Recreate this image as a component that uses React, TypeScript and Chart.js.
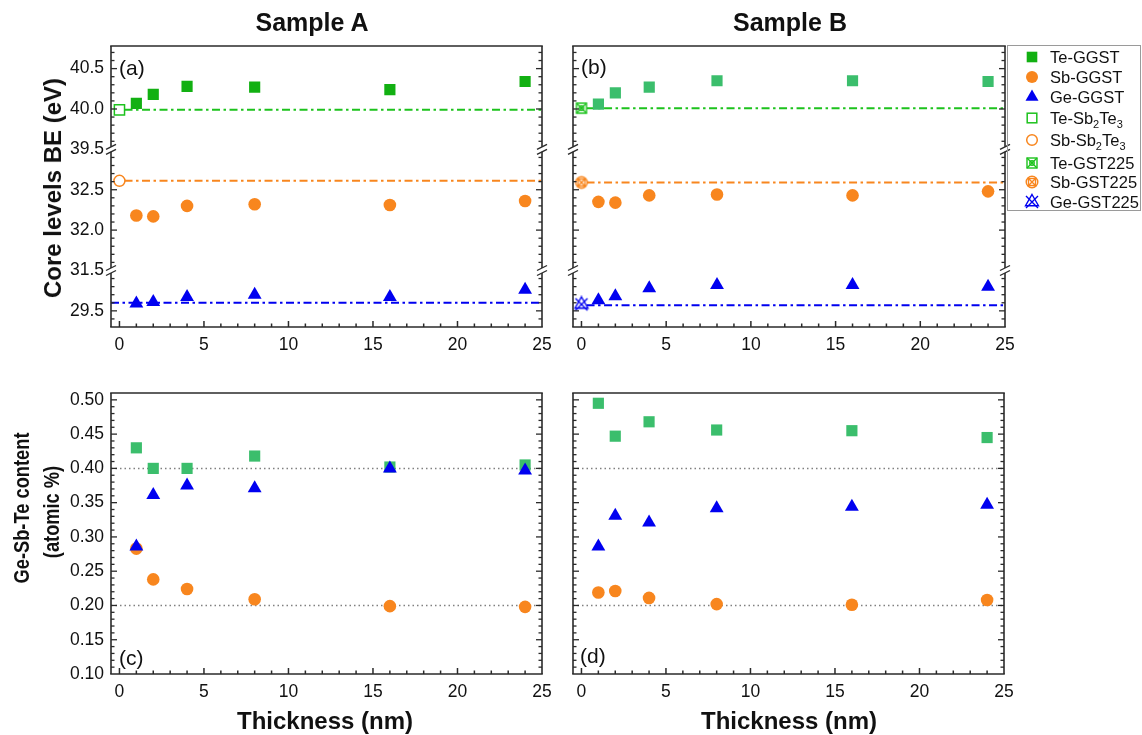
import React, { useEffect, useRef } from 'react';
import { Chart, registerables } from 'chart.js';

Chart.register(...registerables);

const FONT = '"Liberation Sans", Arial, Helvetica, sans-serif';

// ---------- data ----------
const thickness = [1, 2, 4, 8, 16, 24];
const xTickValues = [0, 5, 10, 15, 20, 25];

// Sample A core-level binding energies (eV)
const teGGST_A = [40.07, 40.18, 40.28, 40.27, 40.24, 40.34];
const sbGGST_A = [32.18, 32.17, 32.3, 32.32, 32.31, 32.36];
const geGGST_A = [29.59, 29.61, 29.67, 29.7, 29.67, 29.76];
const teSb2Te3 = [39.99];
const sbSb2Te3 = [32.61];
const geRefA = [29.6];

// Sample B core-level binding energies (eV)
const teGGST_B = [40.06, 40.2, 40.27, 40.35, 40.35, 40.34];
const sbGGST_B = [32.35, 32.34, 32.43, 32.44, 32.43, 32.48];
const geGGST_B = [29.63, 29.68, 29.78, 29.82, 29.82, 29.8];
const teGST225 = [40.01];
const sbGST225 = [32.59];
const geGST225 = [29.58];
const geRefB = [29.57];

// Ge-Sb-Te content (atomic fraction)
const teContentA = [0.43, 0.4, 0.4, 0.418, 0.402, 0.405];
const sbContentA = [0.283, 0.238, 0.224, 0.209, 0.199, 0.198];
const geContentA = [0.286, 0.361, 0.375, 0.371, 0.4, 0.397];
const teContentB = [0.495, 0.447, 0.468, 0.456, 0.455, 0.445];
const sbContentB = [0.219, 0.221, 0.211, 0.202, 0.201, 0.208];
const geContentB = [0.286, 0.331, 0.321, 0.342, 0.344, 0.347];
const contentGuides = [0.4, 0.2];

// axis segments / ticks
const beTopRange = [39.5, 40.78];
const beMidRange = [31.5, 33.0];
const beBotRange = [29.3, 30.0];
const beTopTicks = [39.5, 40.0, 40.5];
const beMidTicks = [31.5, 32.0, 32.5];
const beBotTicks = [29.5];
const contentRange = [0.1, 0.51];
const contentTicks = [0.1, 0.15, 0.2, 0.25, 0.3, 0.35, 0.4, 0.45, 0.5];
const xRange = [-0.5, 25];

// ---------- colours ----------
const GREEN_A = '#12B012';
const GREEN_B = '#3BBE6C';
const GREEN_LINE = '#1DC21D';
const ORANGE = '#F8861E';
const BLUE = '#0000F0';

const R_SQ = 7.9;
const R_CI = 6.3;
const R_TR = 8;

// ---------- helpers ----------
const pts = (xs: number[], ys: number[]) => xs.map((x, i) => ({ x, y: ys[i] }));

function markerDs(xs: number[], ys: number[], style: any, color: string, r: number, axis: string, order: number) {
  return {
    data: pts(xs, ys), yAxisID: axis, order,
    pointStyle: style, pointRadius: r, pointHoverRadius: r,
    backgroundColor: color, borderColor: color, borderWidth: 0, showLine: false,
  };
}
function openDs(xs: number[], ys: number[], style: any, color: string, r: number, axis: string) {
  return {
    data: pts(xs, ys), yAxisID: axis, order: 3,
    pointStyle: style, pointRadius: r, pointHoverRadius: r,
    backgroundColor: '#ffffff', borderColor: color, borderWidth: 1.5, showLine: false,
  };
}
function refLine(y: number, x0: number, color: string, axis: string) {
  return {
    data: [{ x: x0, y }, { x: xRange[1], y }], yAxisID: axis, order: 10,
    showLine: true, borderColor: color, borderWidth: 2, borderDash: [8, 3.5, 2.5, 3.5],
    pointRadius: 0, pointHoverRadius: 0, fill: false,
  };
}
function guideLine(y: number) {
  return {
    data: [{ x: xRange[0], y }, { x: xRange[1], y }], yAxisID: 'y', order: 10,
    showLine: true, borderColor: '#808080', borderWidth: 1.5, borderDash: [1.5, 3],
    pointRadius: 0, pointHoverRadius: 0, fill: false,
  };
}

function symbolCanvas(kind: string, color: string): HTMLCanvasElement {
  const S = 18;
  const c = document.createElement('canvas');
  c.width = S; c.height = S;
  const g = c.getContext('2d')!;
  const m = S / 2;
  g.strokeStyle = color; g.fillStyle = '#ffffff'; g.lineWidth = 1.4;
  if (kind === 'square') {
    const h = 5;
    g.beginPath(); g.rect(m - h, m - h, 2 * h, 2 * h); g.fill(); g.stroke();
    g.beginPath();
    g.moveTo(m - h, m - h); g.lineTo(m + h, m + h);
    g.moveTo(m + h, m - h); g.lineTo(m - h, m + h);
    g.stroke();
    g.beginPath(); g.arc(m, m, 2.2, 0, Math.PI * 2); g.stroke();
  } else if (kind === 'circle') {
    const r = 5.8;
    g.beginPath(); g.arc(m, m, r, 0, Math.PI * 2); g.fill(); g.stroke();
    const d = r * 0.72;
    g.beginPath();
    g.moveTo(m - d, m - d); g.lineTo(m + d, m + d);
    g.moveTo(m + d, m - d); g.lineTo(m - d, m + d);
    g.stroke();
    g.beginPath(); g.rect(m - 3.5, m - 3.5, 7, 7); g.stroke();
  } else {
    const r = 7.5;
    g.beginPath();
    g.moveTo(m, m - r); g.lineTo(m + r * 0.866, m + r * 0.5); g.lineTo(m - r * 0.866, m + r * 0.5); g.closePath();
    g.stroke();
    g.beginPath();
    g.moveTo(m - 6, m - 6); g.lineTo(m + 6, m + 6);
    g.moveTo(m + 6, m - 6); g.lineTo(m - 6, m + 6);
    g.stroke();
  }
  return c;
}

function makeFramePlugin(yMinor: number, yMajor: number) {
  return {
    id: 'frame',
    afterDatasetsDraw(chart: any) {
      const { ctx, chartArea: ca } = chart;
      const ys: any[] = Object.values(chart.scales).filter((s: any) => s.axis === 'y');
      const breaks = ys.map((s) => s.bottom).filter((b) => b < ca.bottom - 1 && b > ca.top + 1);
      ctx.save();
      ctx.strokeStyle = '#2a2a2a';
      ctx.lineWidth = 1.5;
      const line = (x1: number, y1: number, x2: number, y2: number) => {
        ctx.beginPath(); ctx.moveTo(x1, y1); ctx.lineTo(x2, y2); ctx.stroke();
      };
      // x ticks (inward)
      const xs = chart.scales.x;
      for (let v = Math.ceil(xs.min); v <= xs.max + 1e-9; v += 1) {
        const px = xs.getPixelForValue(v);
        if (px <= ca.left + 1 || px >= ca.right - 1) continue;
        const len = v % 5 === 0 ? 6 : 3.5;
        line(px, ca.bottom, px, ca.bottom - len);
      }
      // y ticks (inward, both sides)
      ctx.lineWidth = 1.3;
      for (const s of ys) {
        const k0 = Math.ceil(s.min / yMinor - 1e-6);
        const k1 = Math.floor(s.max / yMinor + 1e-6);
        for (let k = k0; k <= k1; k++) {
          const v = k * yMinor;
          const py = s.getPixelForValue(v);
          if (py <= ca.top + 1 || py >= ca.bottom - 1) continue;
          if (breaks.some((b) => Math.abs(b - py) < 4)) continue;
          const r = v / yMajor;
          const major = Math.abs(r - Math.round(r)) < 1e-6;
          const len = major ? 6 : 3.5;
          line(ca.left, py, ca.left + len, py);
          line(ca.right, py, ca.right - len, py);
        }
      }
      // frame
      ctx.lineWidth = 1.6;
      line(ca.left - 0.8, ca.top, ca.right + 0.8, ca.top);
      line(ca.left - 0.8, ca.bottom, ca.right + 0.8, ca.bottom);
      for (const x of [ca.left, ca.right]) {
        const cuts = [ca.top, ...breaks.slice().sort((a, b) => a - b), ca.bottom];
        for (let i = 0; i < cuts.length - 1; i++) {
          const y1 = cuts[i] + (i === 0 ? 0 : 2.5);
          const y2 = cuts[i + 1] - (i === cuts.length - 2 ? 0 : 2.5);
          line(x, y1, x, y2);
        }
        ctx.lineWidth = 1.3;
        for (const b of breaks) {
          line(x - 5, b, x + 5, b - 5);
          line(x - 5, b + 5, x + 5, b);
        }
        ctx.lineWidth = 1.6;
      }
      ctx.restore();
    },
  };
}

const tickFont = { family: FONT, size: 17.5 };

function xScale() {
  return {
    type: 'linear', position: 'bottom', min: xRange[0], max: xRange[1],
    grid: { display: false, drawTicks: false }, border: { display: false },
    ticks: { padding: 8, color: '#111', font: tickFont, autoSkip: false, maxRotation: 0, callback: (v: any) => String(v) },
    afterBuildTicks: (sc: any) => { sc.ticks = xTickValues.map((v) => ({ value: v })); },
    afterFit: (sc: any) => { sc.height = 40; },
  };
}

function beScales(showLabels: boolean, axisW: number) {
  const segs = [
    { id: 'yTop', range: beTopRange, ticks: beTopTicks, weight: 3 },
    { id: 'yMid', range: beMidRange, ticks: beMidTicks, weight: 2 },
    { id: 'yBot', range: beBotRange, ticks: beBotTicks, weight: 1 },
  ];
  const out: any = {};
  for (const s of segs) {
    out[s.id] = {
      type: 'linear', position: 'left', stack: 'be', stackWeight: s.range[1] - s.range[0], weight: s.weight,
      min: s.range[0], max: s.range[1],
      grid: { display: false, drawTicks: false }, border: { display: false },
      ticks: { display: showLabels, autoSkip: false, padding: 7, color: '#111', font: tickFont, callback: (v: any) => Number(v).toFixed(1) },
      afterBuildTicks: (sc: any) => { sc.ticks = s.ticks.map((v) => ({ value: v })); },
      afterFit: (sc: any) => { sc.width = axisW; },
    };
  }
  return out;
}

function contentScale(showLabels: boolean, axisW: number) {
  return {
    y: {
      type: 'linear', position: 'left', min: contentRange[0], max: contentRange[1],
      grid: { display: false, drawTicks: false }, border: { display: false },
      ticks: { display: showLabels, autoSkip: false, padding: 7, color: '#111', font: tickFont, callback: (v: any) => Number(v).toFixed(2) },
      afterBuildTicks: (sc: any) => { sc.ticks = contentTicks.map((v) => ({ value: v })); },
      afterFit: (sc: any) => { sc.width = axisW; },
    },
  };
}

type Rect = [number, number, number, number];
const PAD_TOP = 20;
const PAD_RIGHT = 18;
const X_AXIS_H = 40;

function Panel({ rect, axisW, build }: { rect: Rect; axisW: number; build: () => any }) {
  const ref = useRef<HTMLCanvasElement>(null);
  const [L, T, R, B] = rect;
  const left = L - axisW;
  const top = T - PAD_TOP;
  const w = R - left + PAD_RIGHT;
  const h = B - top + X_AXIS_H;
  useEffect(() => {
    const chart = new Chart(ref.current as HTMLCanvasElement, build());
    return () => chart.destroy();
  }, []);
  return (
    <canvas
      ref={ref}
      width={w}
      height={h}
      style={{ position: 'absolute', left, top, width: w, height: h }}
    />
  );
}

function baseOptions(scales: any, yMinor: number, yMajor: number, datasets: any[]) {
  return {
    type: 'scatter',
    data: { datasets },
    options: {
      responsive: false,
      animation: false,
      devicePixelRatio: 1,
      layout: { padding: { top: PAD_TOP, right: PAD_RIGHT, left: 0, bottom: 0 } },
      plugins: { legend: { display: false }, tooltip: { enabled: false } },
      events: [],
      scales,
    },
    plugins: [makeFramePlugin(yMinor, yMajor)],
  };
}

const buildA = () =>
  baseOptions({ x: xScale(), ...beScales(true, 111) }, 0.1, 0.5, [
    markerDs(thickness, geGGST_A, 'triangle', BLUE, R_TR, 'yBot', 0),
    markerDs(thickness, sbGGST_A, 'circle', ORANGE, R_CI, 'yMid', 1),
    markerDs(thickness, teGGST_A, 'rect', GREEN_A, R_SQ, 'yTop', 2),
    openDs([0], teSb2Te3, 'rect', GREEN_LINE, 7.2, 'yTop'),
    openDs([0], sbSb2Te3, 'circle', ORANGE, 5.5, 'yMid'),
    refLine(teSb2Te3[0], 0.3, GREEN_LINE, 'yTop'),
    refLine(sbSb2Te3[0], 0.3, ORANGE, 'yMid'),
    refLine(geRefA[0], xRange[0], BLUE, 'yBot'),
  ]);

const buildB = () =>
  baseOptions({ x: xScale(), ...beScales(false, 20) }, 0.1, 0.5, [
    markerDs(thickness, geGGST_B, 'triangle', BLUE, R_TR, 'yBot', 0),
    markerDs(thickness, sbGGST_B, 'circle', ORANGE, R_CI, 'yMid', 1),
    markerDs(thickness, teGGST_B, 'rect', GREEN_B, R_SQ, 'yTop', 2),
    openDs([0], teGST225, symbolCanvas('square', GREEN_LINE), GREEN_LINE, 7, 'yTop'),
    openDs([0], sbGST225, symbolCanvas('circle', ORANGE), ORANGE, 7, 'yMid'),
    openDs([0], geGST225, symbolCanvas('triangle', BLUE), BLUE, 7, 'yBot'),
    refLine(teGST225[0], 0.3, GREEN_LINE, 'yTop'),
    refLine(sbGST225[0], 0.3, ORANGE, 'yMid'),
    refLine(geRefB[0], 0.3, BLUE, 'yBot'),
  ]);

const buildC = () =>
  baseOptions({ x: xScale(), ...contentScale(true, 111) }, 0.01, 0.05, [
    markerDs(thickness, geContentA, 'triangle', BLUE, R_TR, 'y', 0),
    markerDs(thickness, sbContentA, 'circle', ORANGE, R_CI, 'y', 1),
    markerDs(thickness, teContentA, 'rect', GREEN_B, R_SQ, 'y', 2),
    ...contentGuides.map((g) => guideLine(g)),
  ]);

const buildD = () =>
  baseOptions({ x: xScale(), ...contentScale(false, 20) }, 0.01, 0.05, [
    markerDs(thickness, geContentB, 'triangle', BLUE, R_TR, 'y', 0),
    markerDs(thickness, sbContentB, 'circle', ORANGE, R_CI, 'y', 1),
    markerDs(thickness, teContentB, 'rect', GREEN_B, R_SQ, 'y', 2),
    ...contentGuides.map((g) => guideLine(g)),
  ]);

// ---------- text helpers ----------
function Txt({ x, y, children, size, bold, rotate, align, squeeze }: any) {
  const tx = align === 'left' ? '0' : '-50%';
  const sq = squeeze ? ` scaleX(${squeeze})` : '';
  return (
    <div
      style={{
        position: 'absolute', left: x, top: y, whiteSpace: 'nowrap',
        transform: `translate(${tx}, -50%)${rotate ? ' rotate(-90deg)' : ''}${sq}`,
        transformOrigin: align === 'left' ? 'left center' : 'center center',
        fontFamily: FONT, fontSize: size, fontWeight: bold ? 700 : 400, color: '#111', lineHeight: 1,
      }}
    >
      {children}
    </div>
  );
}

function Icon({ kind }: { kind: string }) {
  const s = 18, m = 9;
  let el: any = null;
  if (kind === 'teF') el = <rect x={m - 5.3} y={m - 5.3} width={10.6} height={10.6} fill={GREEN_A} />;
  else if (kind === 'sbF') el = <circle cx={m} cy={m} r={6} fill={ORANGE} />;
  else if (kind === 'geF') el = <polygon points={`${m},${m - 7.5} ${m + 6.5},${m + 3.75} ${m - 6.5},${m + 3.75}`} fill={BLUE} />;
  else if (kind === 'teO') el = <rect x={m - 4.8} y={m - 4.8} width={9.6} height={9.6} fill="#fff" stroke={GREEN_LINE} strokeWidth={1.5} />;
  else if (kind === 'sbO') el = <circle cx={m} cy={m} r={5.3} fill="#fff" stroke={ORANGE} strokeWidth={1.5} />;
  else if (kind === 'teX') el = (
    <g stroke={GREEN_LINE} strokeWidth={1.4} fill="none">
      <rect x={m - 5} y={m - 5} width={10} height={10} />
      <path d={`M${m - 5},${m - 5}L${m + 5},${m + 5}M${m + 5},${m - 5}L${m - 5},${m + 5}`} />
      <circle cx={m} cy={m} r={2.2} />
    </g>
  );
  else if (kind === 'sbX') el = (
    <g stroke={ORANGE} strokeWidth={1.4} fill="none">
      <circle cx={m} cy={m} r={5.8} />
      <path d={`M${m - 4.2},${m - 4.2}L${m + 4.2},${m + 4.2}M${m + 4.2},${m - 4.2}L${m - 4.2},${m + 4.2}`} />
      <rect x={m - 3.5} y={m - 3.5} width={7} height={7} />
    </g>
  );
  else el = (
    <g stroke={BLUE} strokeWidth={1.4} fill="none">
      <polygon points={`${m},${m - 7.5} ${m + 6.5},${m + 3.75} ${m - 6.5},${m + 3.75}`} />
      <path d={`M${m - 6},${m - 6}L${m + 6},${m + 6}M${m + 6},${m - 6}L${m - 6},${m + 6}`} />
    </g>
  );
  return <svg width={s} height={s} style={{ display: 'block' }}>{el}</svg>;
}

const legendKinds = ['teF', 'sbF', 'geF', 'teO', 'sbO', 'teX', 'sbX', 'geX'];
const legendLabels: any[] = [
  'Te-GGST', 'Sb-GGST', 'Ge-GGST',
  <>Te-Sb<sub>2</sub>Te<sub>3</sub></>,
  <>Sb-Sb<sub>2</sub>Te<sub>3</sub></>,
  'Te-GST225', 'Sb-GST225', 'Ge-GST225',
];
const legendRowY = [57, 76.5, 97, 117.5, 140, 162.5, 182, 202];

function Legend() {
  return (
    <>
      <div style={{ position: 'absolute', left: 1007, top: 45, width: 134, height: 166, border: '1px solid #9a9a9a', boxSizing: 'border-box' }} />
      {legendKinds.map((k, i) => (
        <React.Fragment key={k}>
          <div style={{ position: 'absolute', left: 1032 - 9, top: legendRowY[i] - 9 }}>
            <Icon kind={k} />
          </div>
          <div
            style={{
              position: 'absolute', left: 1050, top: legendRowY[i], transform: 'translateY(-50%)',
              fontFamily: FONT, fontSize: 16.5, color: '#111', whiteSpace: 'nowrap', lineHeight: 1,
            }}
          >
            <span style={{ fontSize: 16.5 }}>{legendLabels[i]}</span>
          </div>
        </React.Fragment>
      ))}
    </>
  );
}

export default function App() {
  return (
    <div style={{ position: 'absolute', left: 0, top: 0, width: 1142, height: 735, overflow: 'hidden', background: '#fff' }}>
      <style>{`sub{font-size:11px;vertical-align:-4px;line-height:0}`}</style>
      <Panel rect={[111, 46, 542, 327]} axisW={111} build={buildA} />
      <Panel rect={[573, 46, 1005, 327]} axisW={20} build={buildB} />
      <Panel rect={[111, 393, 542, 674]} axisW={111} build={buildC} />
      <Panel rect={[573, 393, 1004, 674]} axisW={20} build={buildD} />

      <Txt x={312} y={22} size={25} bold>Sample A</Txt>
      <Txt x={790} y={22} size={25} bold>Sample B</Txt>
      <Txt x={53} y={188} size={24} bold rotate>Core levels BE (eV)</Txt>
      <Txt x={22.5} y={508} size={21.5} bold rotate squeeze={0.85}>Ge-Sb-Te content</Txt>
      <Txt x={52.5} y={512} size={21.5} bold rotate squeeze={0.85}>(atomic %)</Txt>
      <Txt x={325} y={721} size={24} bold>Thickness (nm)</Txt>
      <Txt x={789} y={721} size={24} bold>Thickness (nm)</Txt>

      <Txt x={119} y={67} size={21} align="left">(a)</Txt>
      <Txt x={581} y={66} size={21} align="left">(b)</Txt>
      <Txt x={119} y={657} size={21} align="left">(c)</Txt>
      <Txt x={580} y={655} size={21} align="left">(d)</Txt>

      <Legend />
    </div>
  );
}
